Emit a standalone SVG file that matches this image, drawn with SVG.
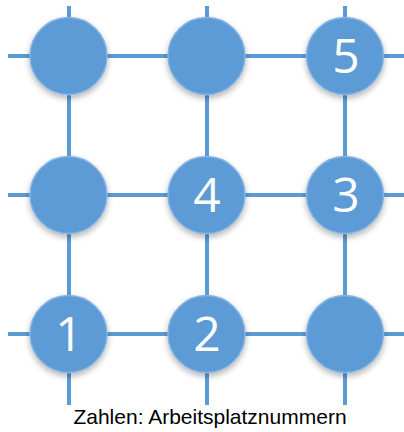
<svg xmlns="http://www.w3.org/2000/svg" width="404" height="432" viewBox="0 0 404 432">
<defs>
<filter id="sh" x="-30%" y="-30%" width="160%" height="170%">
<feGaussianBlur in="SourceAlpha" stdDeviation="3"/>
<feOffset dx="0" dy="3" result="b"/>
<feComponentTransfer><feFuncA type="linear" slope="0.3"/></feComponentTransfer>
<feMerge><feMergeNode/><feMergeNode in="SourceGraphic"/></feMerge>
</filter>
</defs>
<style>
.ln{stroke:#5B9BD5;stroke-width:4;fill:none}
.nd{fill:#5B9BD5;stroke:#86B4E2;stroke-width:1.5;filter:url(#sh)}
.num{font-family:"Open Sans","Noto Sans",sans-serif;font-size:48px;fill:#FFFFFF;text-anchor:middle}
.cap{font-family:"Liberation Sans",Arial,sans-serif;font-size:21px;fill:#000000;text-anchor:middle}
</style>
<rect width="404" height="432" fill="#FFFFFF"/>
<g id="connectors">
<line class="ln" x1="8" y1="56" x2="404" y2="56"/>
<line class="ln" x1="8" y1="195" x2="404" y2="195"/>
<line class="ln" x1="8" y1="334" x2="404" y2="334"/>
<line class="ln" x1="69" y1="6" x2="69" y2="405"/>
<line class="ln" x1="207" y1="6" x2="207" y2="405"/>
<line class="ln" x1="345" y1="6" x2="345" y2="405"/>
</g>
<g id="n-r1c1"><circle class="nd" cx="68.5" cy="56" r="38.5"/></g>
<g id="n-r1c2"><circle class="nd" cx="206.5" cy="56" r="38.5"/></g>
<g id="n-r1c3"><circle class="nd" cx="345" cy="56" r="38.5"/><text class="num" x="346" y="73">5</text></g>
<g id="n-r2c1"><circle class="nd" cx="68.5" cy="195" r="38.5"/></g>
<g id="n-r2c2"><circle class="nd" cx="206.5" cy="195" r="38.5"/><text class="num" x="207" y="212">4</text></g>
<g id="n-r2c3"><circle class="nd" cx="345" cy="195" r="38.5"/><text class="num" x="346" y="212">3</text></g>
<g id="n-r3c1"><circle class="nd" cx="68.5" cy="334" r="38.5"/><text class="num" x="69" y="351">1</text></g>
<g id="n-r3c2"><circle class="nd" cx="206.5" cy="334" r="38.5"/><text class="num" x="207" y="351">2</text></g>
<g id="n-r3c3"><circle class="nd" cx="345" cy="334" r="38.5"/></g>
<g id="caption"><text class="cap" x="210" y="424">Zahlen: Arbeitsplatznummern</text></g>
</svg>
